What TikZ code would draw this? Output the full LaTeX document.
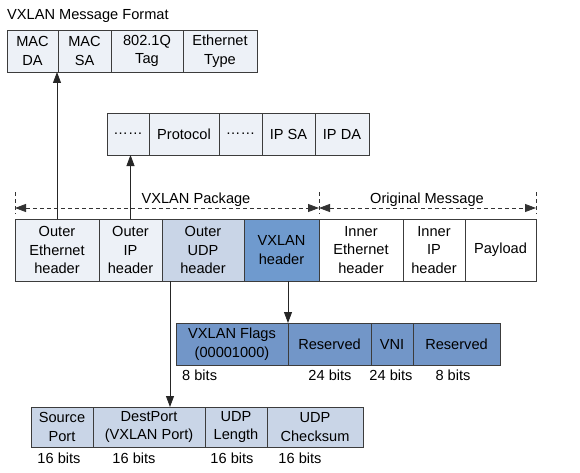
\documentclass[tikz,border=0pt]{standalone}
\usepackage{fontspec}
\setmainfont{Liberation Sans}
\usetikzlibrary{positioning,arrows.meta}
\definecolor{paleblue}{RGB}{237,241,247}
\definecolor{udpblue}{RGB}{201,213,231}
\definecolor{vxblue}{RGB}{111,154,206}
\definecolor{flagblue}{RGB}{114,150,200}
\definecolor{edge}{RGB}{60,60,60}
\tikzset{cell/.style={rectangle,draw=edge,line width=0.8pt,inner sep=1pt,outer sep=0pt,
            align=center,font=\fontsize{14.6}{18.5}\selectfont},
	 pale/.style={cell,fill=paleblue},
	 plain/.style={cell,fill=white},
	 bits/.style={inner sep=0pt,font=\fontsize{14.6}{18.5}\selectfont},
	 arr/.style={-{Triangle[length=11pt,width=8pt]},line width=0.8pt,draw=black!85},
	 span/.style={{Triangle[length=11pt,width=8pt]}-{Triangle[length=11pt,width=8pt]},
	      line width=0.8pt,draw=black!80,dash pattern=on 4pt off 3pt},
	 tick/.style={line width=0.8pt,draw=black!80,dash pattern=on 4pt off 3pt},
	 node distance = 0pt
	 }

\begin{document}
\begin{tikzpicture}[x=1pt,y=-1pt]% VXLAN format
        \useasboundingbox (0,0) rectangle (580,473);
        \node[bits,anchor=base west] (title) at (7,20) {VXLAN Message Format};
        % outer ethernet fields
        \node[pale,minimum width=51pt,minimum height=42pt,anchor=north west] (macda) at (7,30) {MAC\\DA};
        \node[pale,minimum width=53pt,minimum height=42pt] (macsa) [right=of macda] {MAC\\SA};
        \node[pale,minimum width=72pt,minimum height=42pt] (vtag) [right=of macsa] {802.1Q\\Tag};
        \node[pale,minimum width=74pt,minimum height=42pt] (etype) [right=of vtag] {Ethernet\\Type};
        % outer ip fields
        \node[pale,minimum width=42pt,minimum height=42pt,anchor=north west] (dotsa) at (107,113) {……};
        \node[pale,minimum width=70pt,minimum height=42pt] (proto) [right=of dotsa] {Protocol};
        \node[pale,minimum width=43pt,minimum height=42pt] (dotsb) [right=of proto] {……};
        \node[pale,minimum width=53pt,minimum height=42pt] (ipsa) [right=of dotsb] {IP SA};
        \node[pale,minimum width=54pt,minimum height=42pt] (ipda) [right=of ipsa] {IP DA};
        % packet
        \node[pale,minimum width=84pt,minimum height=62pt,anchor=north west] (oeth) at (15,219) {Outer\\Ethernet\\header};
        \node[pale,minimum width=63pt,minimum height=62pt] (oip) [right=of oeth] {Outer\\IP\\header};
        \node[cell,fill=udpblue,minimum width=82pt,minimum height=62pt] (oudp) [right=of oip] {Outer\\UDP\\header};
        \node[cell,fill=vxblue,minimum width=75pt,minimum height=62pt] (vxh) [right=of oudp] {VXLAN\\header};
        \node[plain,minimum width=84pt,minimum height=62pt] (ieth) [right=of vxh] {Inner\\Ethernet\\header};
        \node[plain,minimum width=62pt,minimum height=62pt] (iip) [right=of ieth] {Inner\\IP\\header};
        \node[plain,minimum width=71pt,minimum height=62pt] (load) [right=of iip] {Payload};
        % vxlan header fields
        \node[cell,fill=flagblue,minimum width=112pt,minimum height=42pt,anchor=north west] (flags) at (176,323) {VXLAN Flags\\(00001000)};
        \node[cell,fill=flagblue,minimum width=83pt,minimum height=42pt] (resa) [right=of flags] {Reserved};
        \node[cell,fill=flagblue,minimum width=42pt,minimum height=42pt] (vni) [right=of resa] {VNI};
        \node[cell,fill=flagblue,minimum width=87pt,minimum height=42pt] (resb) [right=of vni] {Reserved};
        % udp header fields
        \node[cell,fill=udpblue,minimum width=62pt,minimum height=40pt,anchor=north west] (sport) at (31,407) {Source\\Port};
        \node[cell,fill=udpblue,minimum width=112pt,minimum height=40pt] (dport) [right=of sport] {DestPort\\(VXLAN Port)};
        \node[cell,fill=udpblue,minimum width=62pt,minimum height=40pt] (ulen) [right=of dport] {UDP\\Length};
        \node[cell,fill=udpblue,minimum width=96pt,minimum height=40pt] (usum) [right=of ulen] {UDP\\Checksum};
        % bit counts
        \node[bits,anchor=west] at (182,375) {8 bits};
        \node[bits] at (330,375) {24 bits};
        \node[bits] at (391,375) {24 bits};
        \node[bits] at (453,375) {8 bits};
        \node[bits] at (59,458) {16 bits};
        \node[bits] at (134,458) {16 bits};
        \node[bits] at (232,458) {16 bits};
        \node[bits] at (300,458) {16 bits};
        % spans
        \coordinate (tl) at ([yshift=27pt]oeth.north west);
        \coordinate (tm) at ([yshift=27pt]vxh.north east);
        \coordinate (tr) at ([yshift=27pt]load.north east);
        \draw[tick] (tl) -- ([yshift=5pt]oeth.north west);
        \draw[tick] (tm) -- ([yshift=5pt]vxh.north east);
        \draw[tick] (tr) -- ([yshift=5pt]load.north east);
        \draw[span] ([yshift=11pt]oeth.north west) -- ([yshift=11pt]vxh.north east);
        \draw[span] ([yshift=11pt]ieth.north west) -- ([yshift=11pt]load.north east);
        \node[bits,anchor=base] (pkg) at (196,203) {VXLAN Package};
        \node[bits,anchor=base] (orig) at (427,203) {Original Message};
        % links
        \draw[arr] (oeth.north) -- (oeth.north |- macda.south);
        \draw[arr] (oip.north) -- (oip.north |- dotsa.south);
        \draw[arr] ([xshift=8pt]oudp.south west) -- ([xshift=8pt]oudp.south west |- dport.north);
        \draw[arr] (flags.north east |- vxh.south) -- (flags.north east);
     \end{tikzpicture}
\end{document}
